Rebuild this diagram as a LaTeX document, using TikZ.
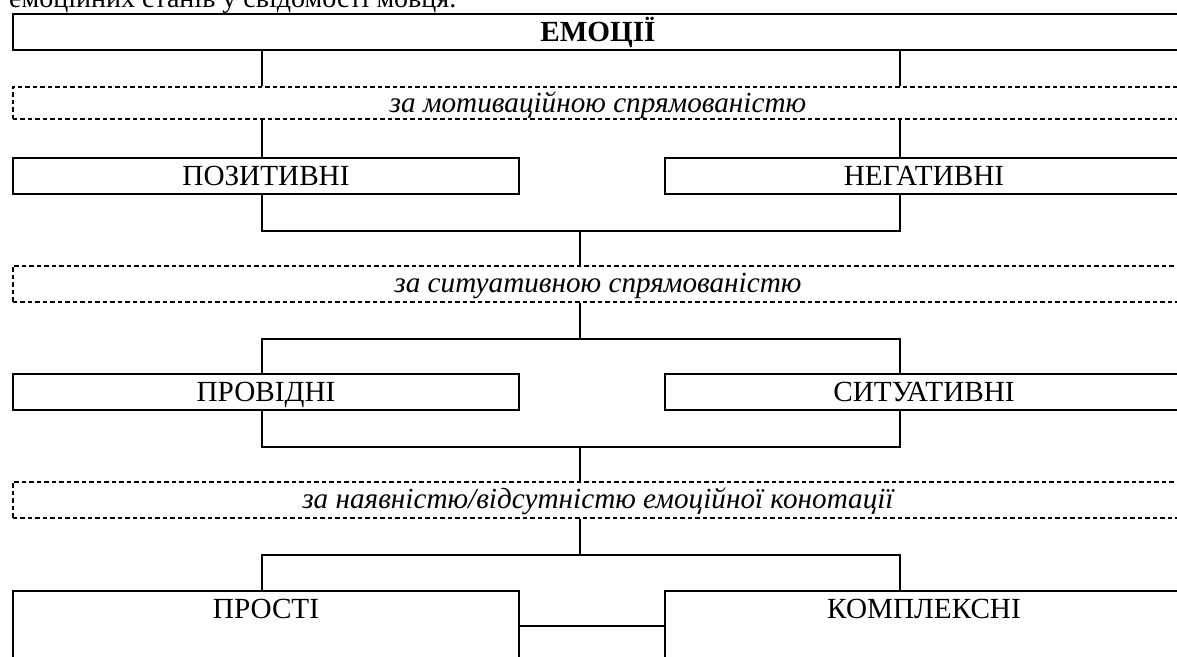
\documentclass[tikz,border=0pt]{standalone}
\usepackage{fontspec}
\setmainfont{Liberation Serif}
\begin{document}
\begin{tikzpicture}[x=1pt,y=-1pt,
  every node/.style={font=\fontsize{29.2}{35}\selectfont},
  box/.style={draw,line width=2pt,inner sep=0pt,text height=27pt,text depth=9pt},
  dbox/.style={draw,line width=1.9pt,dash pattern=on 4.5pt off 3pt,inner sep=0pt,text height=27pt,text depth=9pt},
  conn/.style={line width=2pt}]
\clip (0,0) rectangle (1177,656);
\useasboundingbox (0,0) rectangle (1177,656);
\coordinate (cl) at (262,0);
\coordinate (cr) at (900,0);
\coordinate (cm) at (580,0);
\coordinate (cb) at (0,626);
\node[anchor=base west,inner sep=0pt,font=\fontsize{28}{34}\selectfont] (cap) at (9,7) {емоційних станів у свідомості мовця.};
\node[box,minimum width=1170,anchor=north west] (emo) at (12,13) {\bfseries ЕМОЦІЇ};
\node[dbox,minimum width=1170,anchor=north west,text height=26pt,text depth=6pt] (d1) at (12,86) {\itshape за мотиваційною спрямованістю};
\node[box,minimum width=506,anchor=north west] (pos) at (12,157) {ПОЗИТИВНІ};
\node[box,minimum width=518,anchor=north west] (neg) at (664,157) {НЕГАТИВНІ};
\node[dbox,minimum width=1170,anchor=north west] (d2) at (12,265) {\itshape за ситуативною спрямованістю};
\node[box,minimum width=506,anchor=north west] (prov) at (12,373) {ПРОВІДНІ};
\node[box,minimum width=518,anchor=north west] (sit) at (664,373) {СИТУАТИВНІ};
\node[dbox,minimum width=1170,anchor=north west] (d3) at (12,481) {\itshape за наявністю/відсутністю емоційної конотації};
\node[box,minimum width=506,anchor=north west,text depth=83pt] (prost) at (12,590) {ПРОСТІ};
\node[box,minimum width=518,anchor=north west,text depth=83pt] (komp) at (664,590) {КОМПЛЕКСНІ};
% connectors
\draw[conn] (emo.south -| cl) -- (d1.north -| cl);
\draw[conn] (emo.south -| cr) -- (d1.north -| cr);
\draw[conn] (d1.south -| cl) -- (pos.north -| cl);
\draw[conn] (d1.south -| cr) -- (neg.north -| cr);
\draw[conn] (pos.south -| cl) -- ++(0,36) coordinate (j1) -| (neg.south -| cr);
\draw[conn] (j1 -| cm) -- (d2.north -| cm);
\draw[conn] (d2.south -| cm) -- ++(0,36) coordinate (j2);
\draw[conn] (prov.north -| cl) |- (j2) -| (sit.north -| cr);
\draw[conn] (prov.south -| cl) -- ++(0,36) coordinate (j3) -| (sit.south -| cr);
\draw[conn] (j3 -| cm) -- (d3.north -| cm);
\draw[conn] (d3.south -| cm) -- ++(0,36) coordinate (j4);
\draw[conn] (prost.north -| cl) |- (j4) -| (komp.north -| cr);
\draw[conn] (prost.east |- cb) -- (komp.west |- cb);
\end{tikzpicture}
\end{document}
